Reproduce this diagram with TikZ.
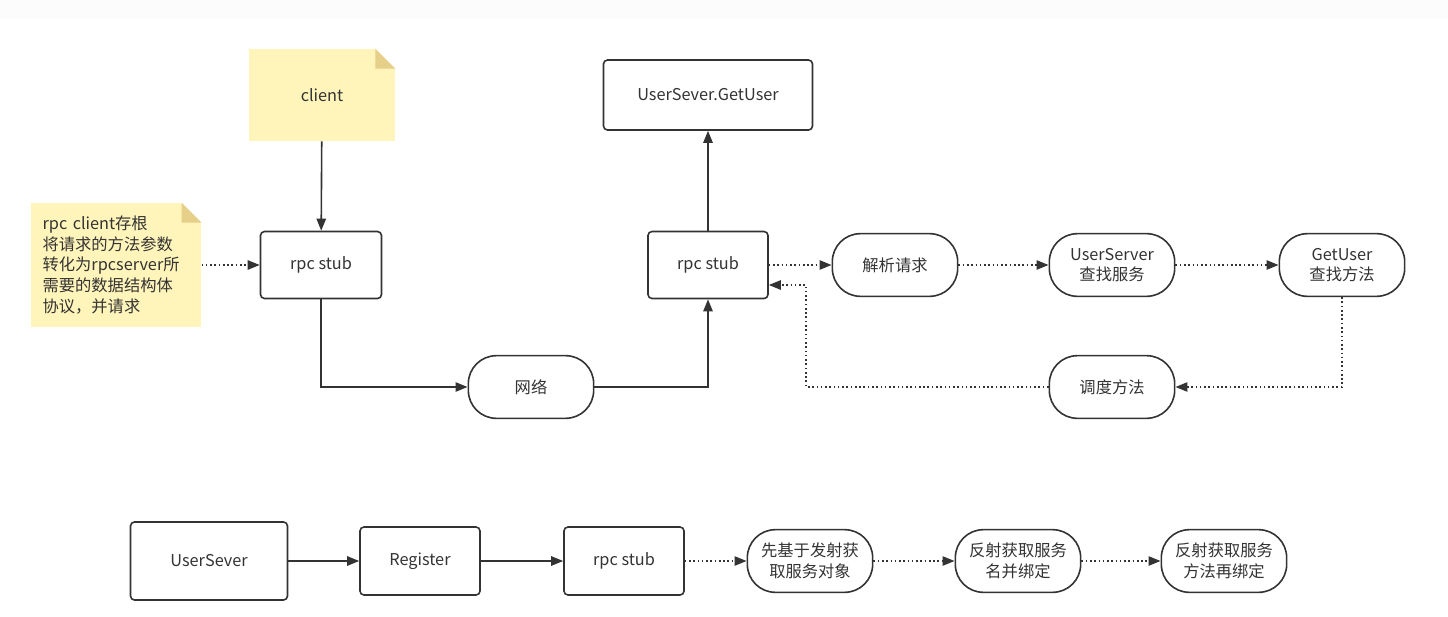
\documentclass[tikz,border=0pt]{standalone}
\usepackage{fontspec}
\setmainfont{Noto Sans CJK SC}
\usetikzlibrary{arrows.meta}

\definecolor{ink}{HTML}{333333}
\definecolor{memopaper}{HTML}{FFF4BA}
\definecolor{memofold}{HTML}{E6CF88}

\tikzset{
  box/.style={draw=ink, line width=1.2pt, rounded corners=3pt, fill=white, text=ink, align=center},
  pill/.style={draw=ink, line width=1.2pt, rounded corners=21pt, fill=white, text=ink, align=center,
    minimum width=94pt, minimum height=47pt},
  notebox/.style={fill=memopaper, text=ink},
  flow/.style={-{Triangle[length=9pt,width=7pt]}, draw=ink, line width=1.2pt},
  dotflow/.style={flow, dash pattern=on 1.2pt off 2pt},
}

\begin{document}
\begin{tikzpicture}[x=0.75pt, y=-0.75pt, every node/.style={font=\fontsize{12.2pt}{15.5pt}\selectfont}]
        \useasboundingbox (0,0) rectangle (1448,617);
        \fill[black!1.2] (0,0) rectangle (1448,18);

        % notes
        \node[notebox, minimum width=109.5pt, minimum height=69pt] (client) at (322,95) {client};
        \fill[white] ([xshift=-15pt]client.north east) -- (client.north east) -- ([yshift=-15pt]client.north east) -- cycle;
        \fill[memofold] ([xshift=-15pt]client.north east) -- ([xshift=-15pt,yshift=-15pt]client.north east) -- ([yshift=-15pt]client.north east) -- cycle;

        \node[notebox, minimum width=127.5pt, minimum height=93pt, text width=110pt, inner xsep=9pt, align=left] (stubmemo) at (116,265)
          {rpc client存根\\将请求的方法参数\\转化为rpcserver所\\需要的数据结构体\\协议，并请求};
        \fill[white] ([xshift=-15pt]stubmemo.north east) -- (stubmemo.north east) -- ([yshift=-15pt]stubmemo.north east) -- cycle;
        \fill[memofold] ([xshift=-15pt]stubmemo.north east) -- ([xshift=-15pt,yshift=-15pt]stubmemo.north east) -- ([yshift=-15pt]stubmemo.north east) -- cycle;

        % call path
        \node[box, minimum width=90.75pt, minimum height=50.25pt] (stub_a) at (321,265) {rpc stub};
        \node[pill] (net) at (531,387) {网络};
        \node[box, minimum width=90pt, minimum height=50.25pt] (stub_b) at (708,265) {rpc stub};
        \node[box, minimum width=156.75pt, minimum height=52.5pt] (getuser) at (708,95) {UserSever.GetUser};

        \node[pill] (parse) at (895,265) {解析请求};
        \node[pill] (findsrv) at (1112,265) {UserServer\\查找服务};
        \node[pill] (findmth) at (1342,265) {GetUser\\查找方法};
        \node[pill] (dispatch) at (1112,387) {调度方法};
        \coordinate (backturn) at (806,285);

        \draw[flow] (client) -- (stub_a);
        \draw[dotflow] (stubmemo) -- (stub_a);
        \draw[flow] (stub_a) |- (net);
        \draw[flow] (net) -| (stub_b);
        \draw[flow] (stub_b) -- (getuser);
        \draw[dotflow] (stub_b) -- (parse);
        \draw[dotflow] (parse) -- (findsrv);
        \draw[dotflow] (findsrv) -- (findmth);
        \draw[dotflow] (findmth) |- (dispatch);
        \draw[dotflow] (dispatch.west) -| (backturn) -- (stub_b.east |- backturn);

        % register path
        \node[box, minimum width=117.75pt, minimum height=58.5pt] (usersv) at (209,561) {UserSever};
        \node[box, minimum width=90pt, minimum height=51pt] (register) at (420,561) {Register};
        \node[box, minimum width=90pt, minimum height=51pt] (stub_c) at (624,561) {rpc stub};
        \node[pill] (reflobj) at (810,561) {先基于发射获\\取服务对象};
        \node[pill] (reflname) at (1018,561) {反射获取服务\\名并绑定};
        \node[pill] (reflmth) at (1224,561) {反射获取服务\\方法再绑定};

        \draw[flow] (usersv) -- (register);
        \draw[flow] (register) -- (stub_c);
        \draw[dotflow] (stub_c) -- (reflobj);
        \draw[dotflow] (reflobj) -- (reflname);
        \draw[dotflow] (reflname) -- (reflmth);
\end{tikzpicture}
\end{document}
